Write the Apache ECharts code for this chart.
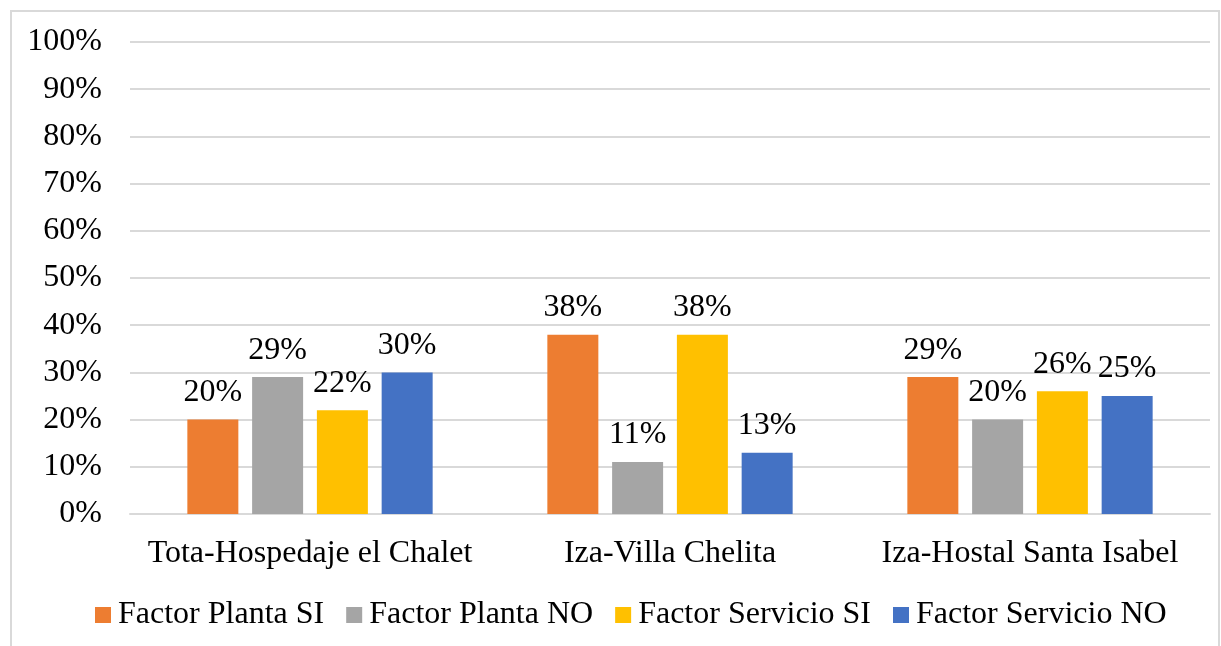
<!DOCTYPE html>
<html>
<head>
<meta charset="utf-8">
<script src="https://cdn.jsdelivr.net/npm/echarts@6/dist/echarts.min.js"></script>
<style>
html, body { margin: 0; padding: 0; background: #fff; }
#container { width: 1221px; height: 646px; }
</style>
</head>
<body>
<div id="container"></div>
<script>
// categorias y valores (%)
var categories = ['Tota-Hospedaje el Chalet', 'Iza-Villa Chelita', 'Iza-Hostal Santa Isabel'];
var seriesNames = ['Factor Planta SI', 'Factor Planta NO', 'Factor Servicio SI', 'Factor Servicio NO'];
var plantaSi = [20, 38, 29];
var plantaNo = [29, 11, 20];
var servicioSi = [22, 38, 26];
var servicioNo = [30, 13, 25];
var colors = ['#ED7D31', '#A5A5A5', '#FFC000', '#4472C4'];

var font = 'Liberation Serif, Times New Roman, serif';

function makeSeries(name, data, color) {
	return {
		name: name,
		type: 'bar',
		data: data,
		barWidth: 51,
		barGap: '27%',
		itemStyle: { color: color },
		label: {
			show: true,
			position: 'top',
			distance: 11,
			formatter: '{c}%',
			color: '#000',
			fontFamily: font,
			fontSize: 32
		}
	};
}

var option = {
	animation: false,
	backgroundColor: '#fff',
	graphic: [{
		type: 'rect',
		shape: { x: 11, y: 11, width: 1208, height: 660 },
		style: { fill: 'none', stroke: '#d9d9d9', lineWidth: 2 }
	}],
	grid: {
		left: 130,
		right: 11,
		top: 42,
		bottom: 132
	},
	legend: {
		data: seriesNames,
		bottom: 15,
		left: 95,
		padding: 0,
		itemWidth: 16,
		itemHeight: 16,
		itemGap: 22,
		icon: 'rect',
		textStyle: {
			fontFamily: font,
			fontSize: 32,
			color: '#000',
			padding: [0, 0, 0, 2]
		}
	},
	xAxis: {
		type: 'category',
		data: categories,
		axisLine: { lineStyle: { color: '#d9d9d9', width: 2 } },
		axisTick: { show: false },
		axisLabel: {
			interval: 0,
			fontFamily: font,
			fontSize: 32,
			color: '#000',
			margin: 24
		}
	},
	yAxis: {
		type: 'value',
		min: 0,
		max: 100,
		interval: 10,
		axisLabel: {
			formatter: '{value}%',
			fontFamily: font,
			fontSize: 32,
			color: '#000',
			margin: 28
		},
		splitLine: { lineStyle: { color: '#d9d9d9', width: 2 } }
	},
	series: [
		makeSeries(seriesNames[0], plantaSi, colors[0]),
		makeSeries(seriesNames[1], plantaNo, colors[1]),
		makeSeries(seriesNames[2], servicioSi, colors[2]),
		makeSeries(seriesNames[3], servicioNo, colors[3])
	]
};

var myChart = echarts.init(document.getElementById('container'));
myChart.setOption(option);
</script>
</body>
</html>
